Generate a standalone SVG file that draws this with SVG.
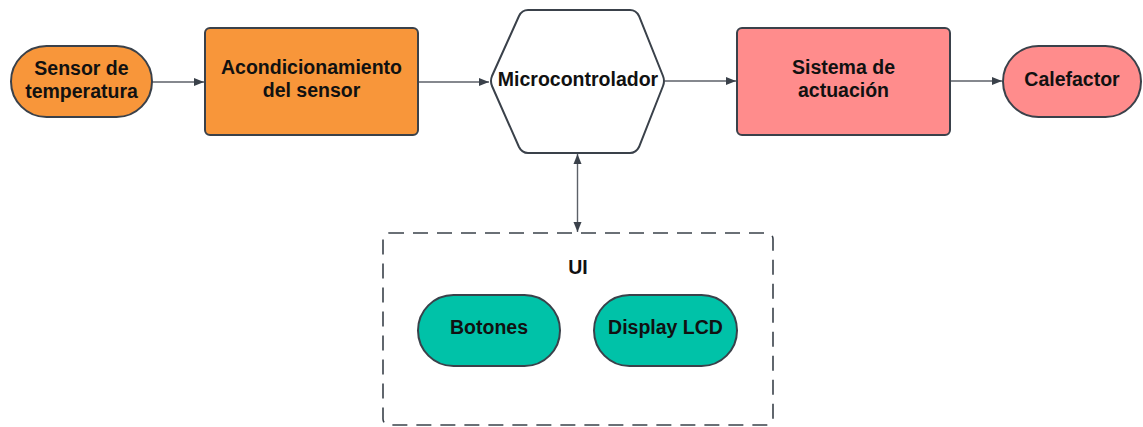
<svg xmlns="http://www.w3.org/2000/svg" width="1143" height="427" viewBox="0 0 1143 427">
  <style>
    .node { stroke: #3a414a; stroke-width: 2; }
    .orange { fill: #f8963a; }
    .pink { fill: #ff8c8c; }
    .teal { fill: #00c2a8; }
    .white { fill: #ffffff; }
    .label { font-family: "Liberation Sans", Arial, sans-serif; font-weight: bold; font-size: 19.5px; fill: #111111; text-anchor: middle; }
    .edge { stroke: #5c6168; stroke-width: 1.4; fill: none; }
    .group { fill: none; stroke: #3a414a; stroke-width: 1.6; stroke-dasharray: 15 9; }
  </style>
  <defs>
    <marker id="arrow" viewBox="0 0 10 10" refX="10" refY="5" markerWidth="10" markerHeight="10" markerUnits="userSpaceOnUse" orient="auto-start-reverse">
      <path d="M0,1 L10,5 L0,9 z" fill="#3a414a"/>
    </marker>
  </defs>

  <rect width="1143" height="427" fill="#ffffff"/>

  <!-- connectors -->
  <g id="connectors">
    <line class="edge" x1="152" y1="82" x2="204" y2="82" marker-end="url(#arrow)"/>
    <line class="edge" x1="418" y1="82" x2="489" y2="82" marker-end="url(#arrow)"/>
    <line class="edge" x1="665" y1="81" x2="736" y2="81" marker-end="url(#arrow)"/>
    <line class="edge" x1="950" y1="81" x2="1002" y2="81" marker-end="url(#arrow)"/>
    <line class="edge" x1="577.5" y1="154" x2="577.5" y2="232" marker-start="url(#arrow)" marker-end="url(#arrow)"/>
  </g>

  <g id="sensor">
    <rect class="node orange" x="11" y="46" width="141" height="71" rx="35.5"/>
    <text class="label" x="81.5" y="74.5">Sensor de</text>
    <text class="label" x="81.5" y="97.5">temperatura</text>
  </g>

  <g id="acondicionamiento">
    <rect class="node orange" x="205" y="28" width="213" height="107" rx="5"/>
    <text class="label" x="311.5" y="74">Acondicionamiento</text>
    <text class="label" x="311.5" y="97">del sensor</text>
  </g>

  <g id="microcontrolador">
    <path class="node white" d="M492,76 L519,16 Q522,10 528,10 L630,10 Q636,10 639,16 L663,76 Q665,81 663,86 L639,147 Q636,153 630,153 L528,153 Q522,153 519,147 L492,86 Q490,81 492,76 Z"/>
    <text class="label" x="578" y="85.5">Microcontrolador</text>
  </g>

  <g id="actuacion">
    <rect class="node pink" x="737" y="28" width="213" height="107" rx="5"/>
    <text class="label" x="843.5" y="74">Sistema de</text>
    <text class="label" x="843.5" y="97">actuación</text>
  </g>

  <g id="calefactor">
    <rect class="node pink" x="1003" y="46" width="138" height="71" rx="35.5"/>
    <text class="label" x="1072" y="85.5">Calefactor</text>
  </g>

  <g id="ui">
    <rect class="group" x="383" y="233" width="390" height="192" rx="6"/>
    <text class="label" x="578" y="274">UI</text>
  </g>

  <g id="botones">
    <rect class="node teal" x="418" y="295" width="142" height="71" rx="35.5"/>
    <text class="label" x="489" y="334">Botones</text>
  </g>

  <g id="display">
    <rect class="node teal" x="594" y="295" width="143" height="71" rx="35.5"/>
    <text class="label" x="665.5" y="334">Display LCD</text>
  </g>
</svg>
